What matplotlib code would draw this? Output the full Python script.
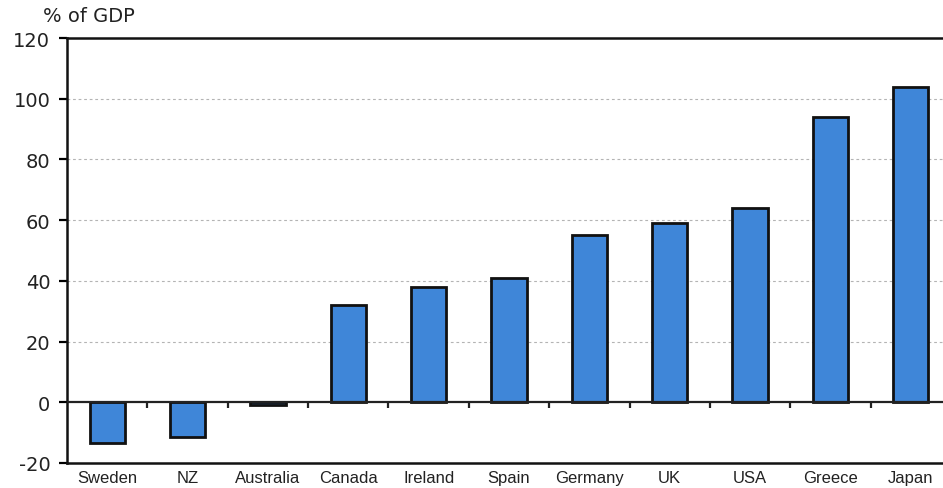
import matplotlib
matplotlib.use("Agg")
import matplotlib.pyplot as plt
from matplotlib.markers import TICKDOWN
import numpy as np

countries = ["Sweden", "NZ", "Australia", "Canada", "Ireland", "Spain",
             "Germany", "UK", "USA", "Greece", "Japan"]
values = [-13.5, -11.5, -1, 32, 38, 41, 55, 59, 64, 94, 104]
y_ticks = [-20, 0, 20, 40, 60, 80, 100, 120]
grid_levels = [20, 40, 60, 80, 100]

W, H = 943, 489
fig = plt.figure(figsize=(W / 100, H / 100), dpi=100)
ax = fig.add_axes([67 / W, 25 / H, 884 / W, 425 / H])

x = np.arange(len(countries))
ax.bar(x, values, width=0.44, color="#3f86d8", edgecolor="#111111",
       linewidth=2, zorder=3)

ax.set_xlim(-0.5, len(countries) - 0.5)
ax.set_ylim(-20, 120)

# dotted reference lines
for g in grid_levels:
    ax.axhline(g, color="#b4b4b4", lw=0.8, ls=(0, (2.5, 2.5)), zorder=1)

# zero line with small category separators
ax.axhline(0, color="#222222", lw=1.6, zorder=4)
bounds = np.arange(len(countries) - 1) + 0.5
ax.plot(bounds, np.zeros_like(bounds), ls="none", marker=TICKDOWN,
        markersize=4, color="#222222", markeredgewidth=1.6, zorder=4,
        clip_on=False)

for side in ["left", "top", "bottom"]:
    ax.spines[side].set_linewidth(1.8)
    ax.spines[side].set_color("#111111")
ax.spines["right"].set_visible(False)

ax.set_yticks(y_ticks)
ax.set_yticklabels([str(v) for v in y_ticks], fontfamily="DejaVu Sans",
                   fontsize=14, color="#222222")
ax.tick_params(axis="y", direction="out", length=6, width=1.6, pad=6)

ax.set_xticks(x)
ax.set_xticklabels(countries, fontfamily="Liberation Sans", fontsize=12,
                   color="#222222")
ax.tick_params(axis="x", length=0, pad=5)

fig.text(89 / W, 1 - 17 / H, "% of GDP", ha="center", va="center",
         fontfamily="DejaVu Sans", fontsize=14, color="#222222")

fig.savefig("out.png", dpi=100)
